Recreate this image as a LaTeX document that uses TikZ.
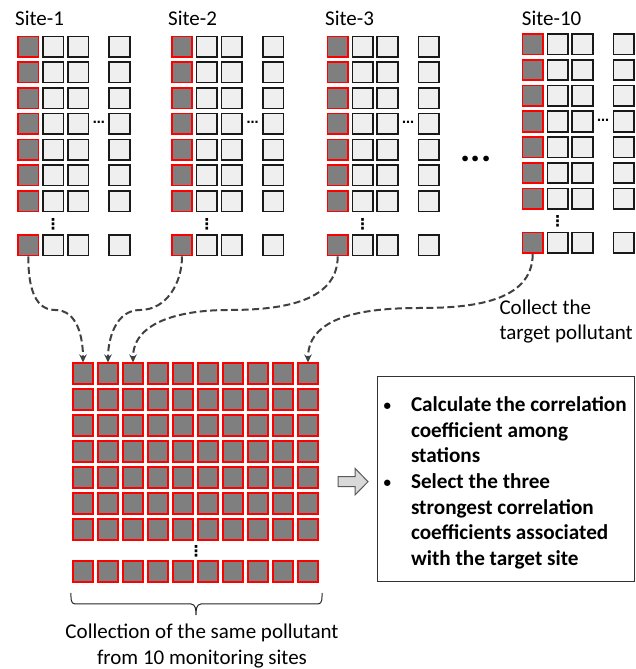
\documentclass[tikz,border=0pt]{standalone}
\usepackage{fontspec}
\setmainfont{Carlito}
\newfontfamily\symfont{DejaVu Sans}
\usetikzlibrary{arrows.meta}
\definecolor{cellgray}{HTML}{7F7F7F}
\definecolor{celllight}{HTML}{EFEFEF}
\definecolor{linkgray}{HTML}{404040}
\definecolor{arrowfill}{HTML}{D9D9D9}
\definecolor{arrowline}{HTML}{595959}
\newcommand{\stepbullet}{\makebox[27.3pt][l]{\raisebox{1.2pt}{\fontsize{15}{15}\selectfont\textbullet}}}

\begin{document}
\begin{tikzpicture}[x=1pt,y=1pt,
  cell/.style={minimum size=20.5pt, inner sep=0pt, line width=1.6pt},
  keycell/.style={cell, draw=red, fill=cellgray},
  datacell/.style={cell, draw=black!90, fill=celllight},
  link/.style={draw=linkgray, line width=2pt, dash pattern=on 7pt off 3.5pt,
    -{Stealth[length=8pt,width=7.5pt]}},
  lbl/.style={font=\fontsize{21}{26}\selectfont, inner sep=0pt},
  boldlbl/.style={font=\fontsize{21.2}{25.6}\selectfont\bfseries, inner sep=0pt},
  hdots/.style={font=\symfont\bfseries\fontsize{12}{12}\selectfont, inner sep=0pt},
  vdots/.style={font=\symfont\bfseries\fontsize{15}{15}\selectfont, inner sep=0pt},
]
\useasboundingbox (0,0) rectangle (635,669);

% one grid of measurements per monitoring site
\foreach \s/\gx/\gy/\lx in {1/17.3/622.3/15, 2/171/622.3/168, 3/326.7/622.3/325, 10/521.7/624.7/521.7} {
  \node[lbl, anchor=base west] (label\s) at (\lx,643) {Site-\s};
  \foreach \r in {1,...,7} {
    \node[keycell]  (s\s-\r-1) at (\gx+11,   \gy-25.75*\r+25.75) {};
    \node[datacell] (s\s-\r-2) at (\gx+35.9, \gy-25.75*\r+25.75) {};
    \node[datacell] (s\s-\r-3) at (\gx+60.8, \gy-25.75*\r+25.75) {};
    \node[datacell] (s\s-\r-4) at (\gx+102.2,\gy-25.75*\r+25.75) {};
  }
  \node[keycell]  (s\s-8-1) at (\gx+11,   \gy-198.6) {};
  \node[datacell] (s\s-8-2) at (\gx+35.9, \gy-198.6) {};
  \node[datacell] (s\s-8-3) at (\gx+60.8, \gy-198.6) {};
  \node[datacell] (s\s-8-4) at (\gx+102.2,\gy-198.6) {};
  \node[hdots] (hd\s) at (\gx+81.5, \gy-77.25) {⋯};
  \node[vdots] (vd\s) at (\gx+35.9, \gy-177.3) {⋮};
}
\node[font=\fontsize{38}{38}\selectfont\bfseries, inner sep=0pt] (more) at (476,510) {...};

% collected target pollutant from all sites
\foreach \c in {1,...,10} {
  \foreach \r in {1,...,7} {
    \node[keycell] (b\r-\c) at (83+25*\c-25, 295.5-26*\r+26) {};
  }
  \node[keycell] (b8-\c) at (83+25*\c-25, 97.5) {};
}
\node[vdots] (vdb) at (196,118) {⋮};

% dashed collection links
\coordinate (m1) at (55,359);
\coordinate (m2) at (140,359);
\coordinate (m3) at (228,359);
\coordinate (m10) at (420,361);
\draw[link] (s1-8-1.south) to[out=-90,in=180] (m1) to[out=0,in=90] (b1-1.north);
\draw[link] (s2-8-1.south) to[out=-90,in=0] (m2) to[out=180,in=90] (b1-2.north);
\draw[link] (s3-8-1.south) to[out=-90,in=0] (m3) to[out=180,in=90] (b1-3.north);
\draw[link] (s10-8-1.south) to[out=-90,in=0] (m10) to[out=180,in=90] (b1-10.north);

\node[lbl, font=\fontsize{21}{25}\selectfont, anchor=base west] (collect) at (499.3,354.7)
  {\begin{tabular}[t]{@{}l@{}}Collect the\\ target pollutant\end{tabular}};

% brace under the collected grid
\draw[line width=1pt, black!85] (71,76) to[out=-90,in=180] (75,65) -- (191,65)
  to[out=0,in=90] (196,54) to[out=90,in=180] (201,65) -- (318,65) to[out=0,in=-90] (322,76);
\node[lbl, anchor=base] (caption) at (202,30)
  {\begin{tabular}[t]{@{}c@{}}Collection of the same pollutant\\ from 10 monitoring sites\end{tabular}};

% block arrow to the processing steps
\draw[fill=arrowfill, draw=arrowline, line width=1pt]
  (338,192.3) -- (355,192.3) -- (355,200.7) -- (368,187.3) -- (355,174) -- (355,182.3) -- (338,182.3) -- cycle;

\node[draw=black!80, line width=0.9pt, minimum width=257pt, minimum height=205pt, inner sep=0pt] (box) at (505.8,189.8) {};
\node[boldlbl, anchor=base west] (steps) at (383.5,257.3)
  {\begin{tabular}[t]{@{}l@{}l@{}}
  \stepbullet & Calculate the correlation\\
   & coefficient among\\
   & stations\\
  \stepbullet & Select the three\\
   & strongest correlation\\
   & coefficients associated\\
   & with the target site
  \end{tabular}};
\end{tikzpicture}
\end{document}
